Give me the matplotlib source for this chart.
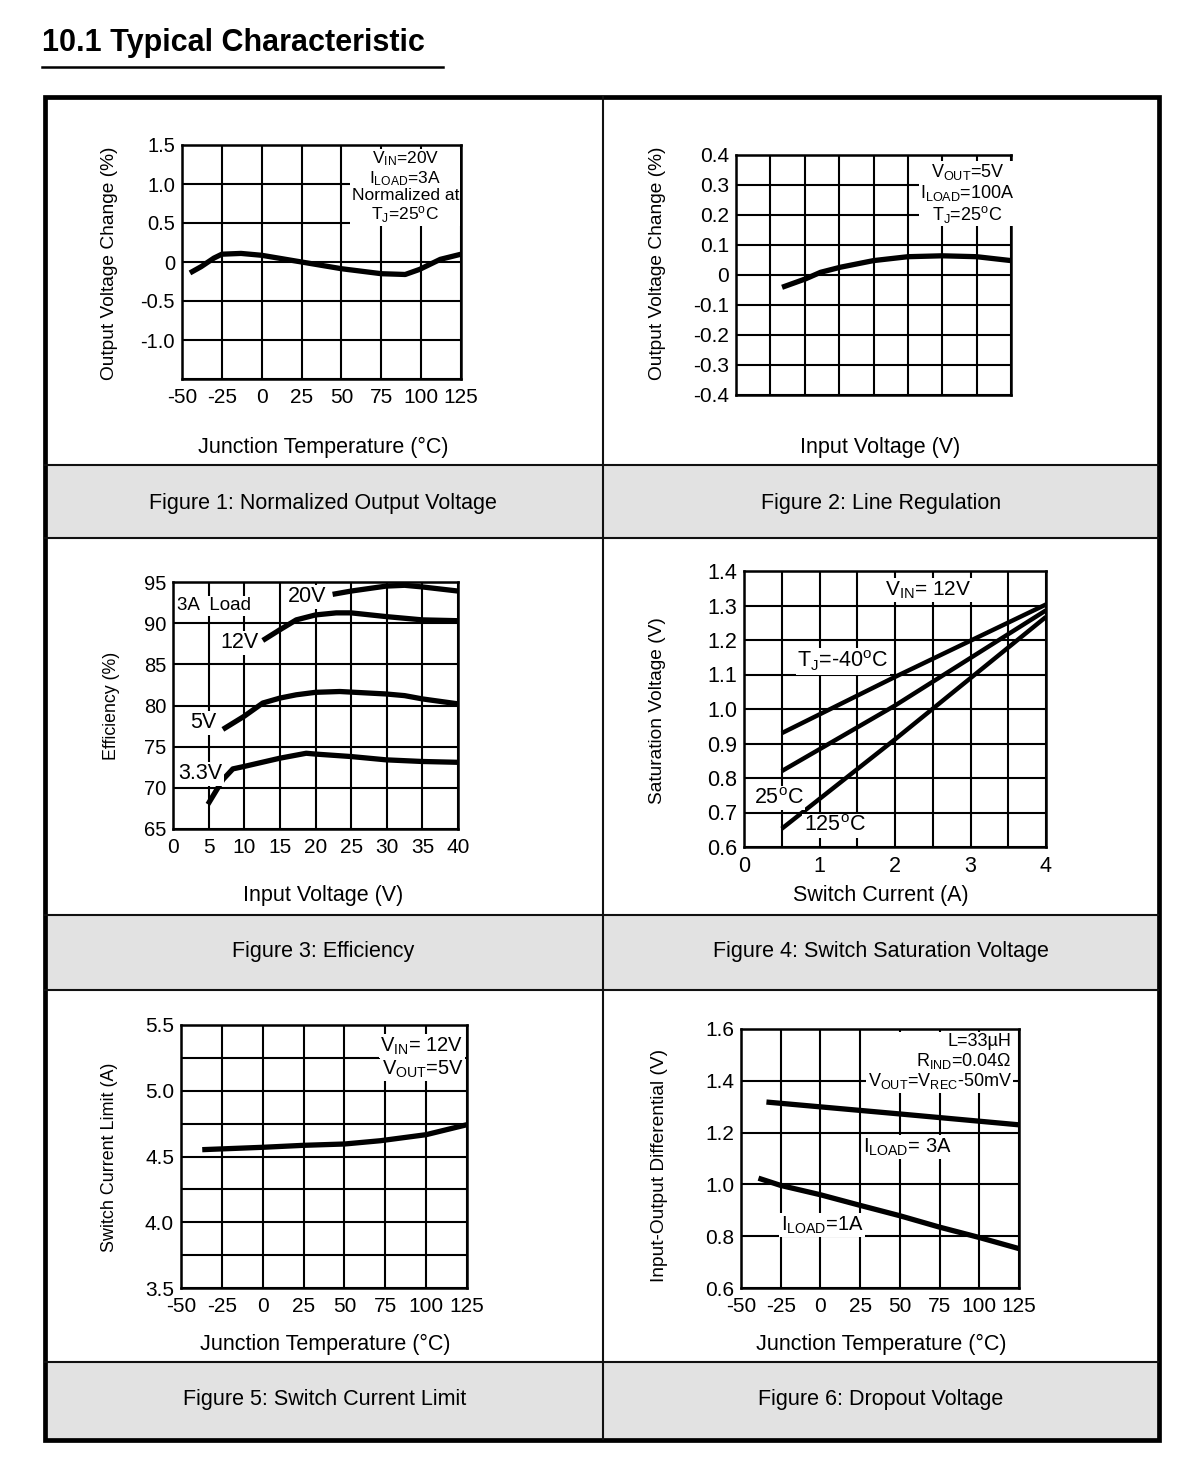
import matplotlib
matplotlib.use("Agg")
import matplotlib.pyplot as plt
from matplotlib.patches import Rectangle

plt.rcParams['font.family'] = ['Liberation Sans', 'DejaVu Sans']
plt.rcParams['mathtext.fontset'] = 'custom'
plt.rcParams['mathtext.rm'] = 'Liberation Sans'
plt.rcParams['mathtext.it'] = 'Liberation Sans:italic'
plt.rcParams['mathtext.bf'] = 'Liberation Sans:bold'

# ---- data ----
fig1_temp = [-45, -38, -30, -25, -13, 0, 25, 50, 75, 90, 99, 112, 125]
fig1_change = [-0.14, -0.06, 0.05, 0.10, 0.11, 0.086, 0.0, -0.086, -0.15, -0.16, -0.095, 0.034, 0.10]

fig2_vin = [6.7, 10.1, 12.3, 15.2, 20, 25, 30, 35, 40]
fig2_change = [-0.041, -0.013, 0.009, 0.026, 0.048, 0.061, 0.064, 0.061, 0.048]

fig3_vin_20 = [22.4, 25, 29.9, 32.5, 35, 40]
fig3_eff_20 = [93.5, 93.9, 94.5, 94.6, 94.4, 93.9]
fig3_vin_12 = [12.6, 15, 17.3, 20, 22.9, 25, 29.9, 35, 40]
fig3_eff_12 = [87.9, 89.2, 90.4, 91.0, 91.25, 91.25, 90.8, 90.4, 90.3]
fig3_vin_5 = [7, 10, 12.6, 15, 17.3, 20, 23.4, 29.9, 32.5, 35, 40]
fig3_eff_5 = [77.1, 78.7, 80.3, 80.9, 81.3, 81.6, 81.7, 81.4, 81.2, 80.8, 80.2]
fig3_vin_33 = [4.9, 7, 8.4, 10, 15, 18.7, 20, 25, 29.9, 35, 40]
fig3_eff_33 = [68.0, 71.0, 72.3, 72.6, 73.6, 74.2, 74.1, 73.8, 73.4, 73.2, 73.1]

fig4_current = [0.5, 2.0, 4.0]
fig4_sat_m40 = [0.93, 1.093, 1.303]
fig4_sat_25 = [0.82, 1.01, 1.286]
fig4_sat_125 = [0.653, 0.912, 1.267]

fig5_temp = [-37, 0, 25, 50, 72, 100, 125]
fig5_limit = [4.552, 4.57, 4.585, 4.595, 4.62, 4.666, 4.742]

fig6_temp_3a = [-34, 50, 125]
fig6_diff_3a = [1.318, 1.272, 1.230]
fig6_temp_1a = [-39, -25, 0, 25, 50, 75, 100, 125]
fig6_diff_1a = [1.024, 0.996, 0.96, 0.919, 0.879, 0.835, 0.795, 0.752]

temp_ticks = [-50, -25, 0, 25, 50, 75, 100, 125]
temp_labels = ['-50', '-25', '0', '25', '50', '75', '100', '125']

captions = ['Figure 1: Normalized Output Voltage', 'Figure 2: Line Regulation',
            'Figure 3: Efficiency', 'Figure 4: Switch Saturation Voltage',
            'Figure 5: Switch Current Limit', 'Figure 6: Dropout Voltage']

W, H = 1200, 1461
fig = plt.figure(figsize=(W / 100, H / 100), dpi=100)

# background layer in pixel coordinates for the table frame
bg = fig.add_axes([0, 0, 1, 1])
bg.set_xlim(0, W)
bg.set_ylim(H, 0)
bg.axis('off')

bg.text(42, 51, '10.1 Typical Characteristic', fontsize=22, fontweight='bold', va='baseline', ha='left')
bg.plot([42, 443], [67, 67], color='black', lw=1.8)

for top, bot in [(465, 538), (915, 990), (1362, 1439)]:
    bg.add_patch(Rectangle((45, top), 1113, bot - top, facecolor='#e2e2e2', edgecolor='none'))
for y in [465, 538, 915, 990, 1362]:
    bg.plot([45, 1158], [y, y], color='#111111', lw=1.5)
bg.plot([603, 603], [97, 1439], color='#111111', lw=1.5)
bg.add_patch(Rectangle((45, 97), 1113.5, 1342.5, facecolor='none', edgecolor='black', lw=3.4))

cap_pos = [(323, 503), (881, 503), (323, 951), (881, 951), (325, 1399), (881, 1399)]
for (cx, cy), txt in zip(cap_pos, captions):
    bg.text(cx, cy, txt, fontsize=15.5, ha='center', va='center')

xlab = [(323, 447, 'Junction Temperature (°C)'), (880, 447, 'Input Voltage (V)'),
        (323, 896, 'Input Voltage (V)'), (881, 896, 'Switch Current (A)'),
        (325, 1344, 'Junction Temperature (°C)'), (881, 1344, 'Junction Temperature (°C)')]
for cx, cy, txt in xlab:
    bg.text(cx, cy, txt, fontsize=15.5, ha='center', va='center')

ylab = [(110, 263, 'Output Voltage Change (%)', 13.8), (658, 263, 'Output Voltage Change (%)', 13.8),
        (111, 706, 'Efficiency (%)', 12.8), (658, 711, 'Saturation Voltage (V)', 13.8),
        (109, 1157, 'Switch Current Limit (A)', 12.9), (659, 1165, 'Input-Output Differential (V)', 13.8)]
for cx, cy, txt, fs in ylab:
    bg.text(cx, cy, txt, fontsize=fs, ha='center', va='center', rotation=90)


def panel(box, xlim, ylim, xticks, xlabels, yticks, ylabels, xsize=15, ysize=15):
    x0, y0, x1, y1 = box
    ax = fig.add_axes([x0 / W, 1 - y1 / H, (x1 - x0) / W, (y1 - y0) / H])
    ax.set_xlim(xlim)
    ax.set_ylim(ylim)
    ax.set_xticks(xticks)
    ax.set_xticklabels(xlabels, fontsize=xsize)
    ax.set_yticks(yticks)
    ax.set_yticklabels(ylabels, fontsize=ysize)
    ax.tick_params(axis='x', length=0, pad=6.5)
    ax.tick_params(axis='y', length=0, pad=5)
    ax.grid(True, color='black', lw=1.5)
    ax.set_axisbelow(True)
    for s in ax.spines.values():
        s.set_linewidth(1.8)
    return ax


box = dict(facecolor='white', edgecolor='none', pad=1.0)
curve = dict(color='black', lw=3.8, solid_capstyle='butt', solid_joinstyle='round')

# Figure 1
ax1 = panel((182, 145, 461, 379), (-50, 125), (-1.5, 1.5), temp_ticks, temp_labels,
            [-1.5, -1.0, -0.5, 0, 0.5, 1.0, 1.5], ['', '-1.0', '-0.5', '0', '0.5', '1.0', '1.5'], ysize=14.5)
ax1.plot(fig1_temp, fig1_change, **curve)
ax1.text(90, 1.44, 'V$_{\\rm IN}$=20V\nI$_{\\rm LOAD}$=3A\nNormalized at\nT$_{\\rm J}$=25$^{\\rm o}$C',
         fontsize=12.5, ha='center', va='top', linespacing=1.05, bbox=box)

# Figure 2
ax2 = panel((736, 155, 1011, 395), (0, 40), (-0.4, 0.4), [0, 5, 10, 15, 20, 25, 30, 35, 40], [''] * 9,
            [-0.4, -0.3, -0.2, -0.1, 0, 0.1, 0.2, 0.3, 0.4],
            ['-0.4', '-0.3', '-0.2', '-0.1', '0', '0.1', '0.2', '0.3', '0.4'])
ax2.plot(fig2_vin, fig2_change, **curve)
ax2.text(33.7, 0.375, 'V$_{\\rm OUT}$=5V\nI$_{\\rm LOAD}$=100A\nT$_{\\rm J}$=25$^{\\rm o}$C',
         fontsize=13, ha='center', va='top', linespacing=1.05, bbox=box)

# Figure 3
ax3 = panel((173, 582, 458, 829), (0, 40), (65, 95), [0, 5, 10, 15, 20, 25, 30, 35, 40],
            ['0', '5', '10', '15', '20', '25', '30', '35', '40'],
            [65, 70, 75, 80, 85, 90, 95], ['65', '70', '75', '80', '85', '90', '95'], xsize=15, ysize=14.5)
for xs, ys in [(fig3_vin_20, fig3_eff_20), (fig3_vin_12, fig3_eff_12),
               (fig3_vin_5, fig3_eff_5), (fig3_vin_33, fig3_eff_33)]:
    ax3.plot(xs, ys, **curve)
ax3.text(0.6, 92.1, '3A  Load', fontsize=13.5, ha='left', va='center', bbox=box)
ax3.text(18.8, 93.2, '20V', fontsize=15.5, ha='center', va='center', bbox=box)
ax3.text(9.4, 87.6, '12V', fontsize=15.5, ha='center', va='center', bbox=box)
ax3.text(4.2, 77.9, '5V', fontsize=15.5, ha='center', va='center', bbox=box)
ax3.text(3.9, 71.7, '3.3V', fontsize=15.5, ha='center', va='center', bbox=box)

# Figure 4
ax4 = panel((744, 571, 1046, 847), (0, 4), (0.6, 1.4), [0, 0.5, 1, 1.5, 2, 2.5, 3, 3.5, 4],
            ['0', '', '1', '', '2', '', '3', '', '4'],
            [0.6, 0.7, 0.8, 0.9, 1.0, 1.1, 1.2, 1.3, 1.4],
            ['0.6', '0.7', '0.8', '0.9', '1.0', '1.1', '1.2', '1.3', '1.4'], xsize=15.5, ysize=15.5)
for ys in [fig4_sat_m40, fig4_sat_25, fig4_sat_125]:
    ax4.plot(fig4_current, ys, color='black', lw=3.2, solid_capstyle='butt')
ax4.text(2.44, 1.345, 'V$_{\\rm IN}$= 12V', fontsize=15, ha='center', va='center', bbox=box)
ax4.text(1.31, 1.139, 'T$_{\\rm J}$=-40$^{\\rm o}$C', fontsize=15.5, ha='center', va='center', bbox=box)
ax4.text(0.46, 0.742, '25$^{\\rm o}$C', fontsize=15.5, ha='center', va='center', bbox=box)
ax4.text(1.2, 0.661, '125$^{\\rm o}$C', fontsize=15.5, ha='center', va='center', bbox=box)

# Figure 5
ax5 = panel((181, 1025, 467, 1288), (-50, 125), (3.5, 5.5), temp_ticks, temp_labels,
            [3.5, 3.75, 4.0, 4.25, 4.5, 4.75, 5.0, 5.25, 5.5],
            ['3.5', '', '4.0', '', '4.5', '', '5.0', '', '5.5'])
ax5.plot(fig5_temp, fig5_limit, **curve)
ax5.text(123, 5.34, 'V$_{\\rm IN}$= 12V', fontsize=14.5, ha='right', va='center', bbox=box)
ax5.text(123, 5.165, 'V$_{\\rm OUT}$=5V', fontsize=14.5, ha='right', va='center', bbox=box)

# Figure 6
ax6 = panel((741, 1029, 1019, 1288), (-50, 125), (0.6, 1.6), temp_ticks, temp_labels,
            [0.6, 0.8, 1.0, 1.2, 1.4, 1.6], ['0.6', '0.8', '1.0', '1.2', '1.4', '1.6'])
ax6.plot(fig6_temp_3a, fig6_diff_3a, **curve)
ax6.plot(fig6_temp_1a, fig6_diff_1a, **curve)
ax6.text(120.5, 1.585, 'L=33\u00b5H\nR$_{\\rm IND}$=0.04\u03a9\nV$_{\\rm OUT}$=V$_{\\rm REC}$-50mV',
         fontsize=13, ha='right', va='top', ma='right', linespacing=1.05, bbox=box)
ax6.text(55, 1.144, 'I$_{\\rm LOAD}$= 3A', fontsize=14.5, ha='center', va='center', bbox=box)
ax6.text(1.0, 0.843, 'I$_{\\rm LOAD}$=1A', fontsize=14.5, ha='center', va='center', bbox=box)

fig.savefig('out.png', dpi=100)
